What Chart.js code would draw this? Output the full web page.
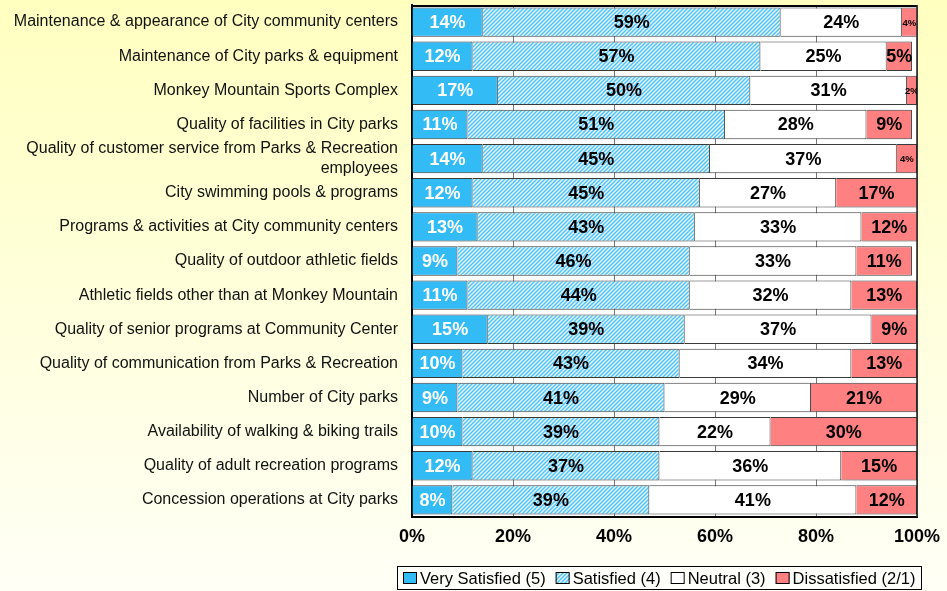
<!DOCTYPE html>
<html>
<head>
<meta charset="utf-8">
<script src="https://cdn.jsdelivr.net/npm/chart.js@4"></script>
<style>
html,body{margin:0;padding:0;background:#FFFFE0;}
#wrap{width:947px;height:591px;position:relative;}
</style>
</head>
<body>
<div id="wrap"><canvas id="c" width="947" height="591"></canvas></div>
<script>
const categories = [
  "Maintenance & appearance of City community centers",
  "Maintenance of City parks & equipment",
  "Monkey Mountain Sports Complex",
  "Quality of facilities in City parks",
  ["Quality of customer service from Parks & Recreation", "employees"],
  "City swimming pools & programs",
  "Programs & activities at City community centers",
  "Quality of outdoor athletic fields",
  "Athletic fields other than at Monkey Mountain",
  "Quality of senior programs at Community Center",
  "Quality of communication from Parks & Recreation",
  "Number of City parks",
  "Availability of walking & biking trails",
  "Quality of adult recreation programs",
  "Concession operations at City parks"
];
const verySatisfied = [14,12,17,11,14,12,13,9,11,15,10,9,10,12,8];
const satisfied     = [59,57,50,51,45,45,43,46,44,39,43,41,39,37,39];
const neutral       = [24,25,31,28,37,27,33,33,32,37,34,29,22,36,41];
const dissatisfied  = [4,5,2,9,4,17,12,11,13,9,13,21,30,15,12];
const seriesNames = ["Very Satisfied (5)","Satisfied (4)","Neutral (3)","Dissatisfied (2/1)"];
const xTicks = [0,20,40,60,80,100];

const FONT = "'Liberation Sans', Arial, sans-serif";

function hatch(){
  const p = document.createElement('canvas');
  p.width = 4; p.height = 4;
  const g = p.getContext('2d');
  g.fillStyle = '#E6F6FF';
  g.fillRect(0,0,4,4);
  g.strokeStyle = '#4EC3F7';
  g.lineWidth = 1.4;
  g.beginPath();
  g.moveTo(-1,5); g.lineTo(5,-1);
  g.moveTo(-1,1); g.lineTo(1,-1);
  g.moveTo(3,5); g.lineTo(5,3);
  g.stroke();
  return document.getElementById('c').getContext('2d').createPattern(p,'repeat');
}

const bgPlugin = {
  id:'bg',
  beforeDraw(chart){
    const {ctx,width,height,chartArea:a} = chart;
    ctx.save();
    const gr = ctx.createLinearGradient(0,0,0,height);
    gr.addColorStop(0,'#FFFFC0');
    gr.addColorStop(1,'#FFFFF6');
    ctx.fillStyle = gr;
    ctx.fillRect(0,0,width,height);
    ctx.fillStyle = '#FFFFFF';
    ctx.fillRect(a.left,a.top,a.right-a.left,a.bottom-a.top);
    ctx.restore();
  },
  afterDatasetsDraw(chart){
    const {ctx,chartArea:a} = chart;
    ctx.save();
    ctx.strokeStyle = '#000';
    ctx.lineWidth = 2;
    ctx.beginPath();
    ctx.moveTo(a.left,a.top+1); ctx.lineTo(a.right,a.top+1);
    ctx.stroke();
    ctx.lineWidth = 1.5;
    ctx.strokeStyle = '#222';
    ctx.beginPath();
    ctx.moveTo(a.right,a.top); ctx.lineTo(a.right,a.bottom);
    ctx.stroke();
    // value labels
    ctx.beginPath();
    ctx.rect(a.left,a.top,a.right-a.left,a.bottom-a.top);
    ctx.clip();
    ctx.textAlign='center';
    ctx.textBaseline='middle';
    chart.data.datasets.forEach((ds,i)=>{
      const meta = chart.getDatasetMeta(i);
      meta.data.forEach((el,j)=>{
        const v = ds.data[j];
        const x1 = Math.min(el.x, a.right), x0 = el.base;
        const cx = (x0+x1)/2;
        const small = v <= 4;
        ctx.font = 'bold ' + (small? 9.5 : 18) + 'px ' + FONT;
        ctx.fillStyle = i===0 ? '#FFFFFF' : '#000000';
        ctx.fillText(v+'%', cx, el.y+1);
      });
    });
    ctx.restore();
  },
  afterDraw(chart){
    // legend built from the datasets
    const ctx = chart.ctx, a = chart.chartArea;
    const ds = chart.data.datasets;
    ctx.save();
    ctx.font = '16.5px ' + FONT;
    const boxW = 14, boxH = 12, gapT = 3, gapI = 10, pad = 6;
    const widths = ds.map(d=>ctx.measureText(d.label).width);
    let total = pad*2 - gapI;
    widths.forEach(w=>{ total += boxW + gapT + w + gapI; });
    const cxm = (a.left + a.right)/2 - 5;
    const left = Math.round(cxm - total/2);
    const top = 566, h = 23, cy = top + h/2 + 0.5;
    ctx.fillStyle = '#FFFFFA';
    ctx.fillRect(left, top, total, h);
    ctx.strokeStyle = '#000';
    ctx.lineWidth = 1;
    ctx.strokeRect(left+0.5, top+0.5, Math.round(total), h);
    let x = left + pad;
    ctx.textBaseline = 'middle';
    ctx.textAlign = 'left';
    ds.forEach((d,i)=>{
      const by = Math.round(cy - boxH/2);
      ctx.fillStyle = d.backgroundColor;
      ctx.fillRect(x, by, boxW, boxH);
      ctx.strokeStyle = '#000';
      ctx.strokeRect(x+0.5, by+0.5, boxW-1, boxH-1);
      ctx.fillStyle = '#000';
      ctx.fillText(d.label, x + boxW + gapT, cy + 1);
      x += boxW + gapT + widths[i] + gapI;
    });
    ctx.restore();
  }
};

const border = '#3a3a3a';
const chart = new Chart(document.getElementById('c'), {
  type:'bar',
  data:{
    labels: categories,
    datasets:[
      {label:seriesNames[0], data:verySatisfied, backgroundColor:'#33BBF5', borderColor:border, borderWidth:1},
      {label:seriesNames[1], data:satisfied, backgroundColor:hatch(), borderColor:border, borderWidth:1},
      {label:seriesNames[2], data:neutral, backgroundColor:'#FFFFFF', borderColor:border, borderWidth:1},
      {label:seriesNames[3], data:dissatisfied, backgroundColor:'#FF8080', borderColor:border, borderWidth:1}
    ]
  },
  options:{
    responsive:false,
    animation:false,
    indexAxis:'y',
    layout:{padding:{top:5,right:30,bottom:40,left:0}},
    datasets:{bar:{categoryPercentage:1, barPercentage:0.86}},
    scales:{
      x:{
        stacked:true, min:0, max:100,
        afterBuildTicks(s){ s.ticks = xTicks.map(v=>({value:v})); },
        afterFit(s){ s.height = 34; s.paddingLeft = 0; s.paddingRight = 0; },
        ticks:{callback:v=>v+'%', color:'#000', font:{family:FONT,size:18,weight:'bold'}, padding:9, maxRotation:0},
        grid:{color:'#777', lineWidth:1, drawTicks:false},
        border:{color:'#000', width:2}
      },
      y:{
        stacked:true,
        afterFit(s){ s.width = 412; s.paddingTop = 0; s.paddingBottom = 0; },
        ticks:{color:'#111', font:{family:FONT,size:16,lineHeight:1.2}, padding:6, autoSkip:false},
        grid:{display:false},
        border:{color:'#000', width:2}
      }
    },
    plugins:{
      legend:{display:false},
      tooltip:{enabled:false}
    }
  },
  plugins:[bgPlugin]
});
</script>
</body>
</html>
